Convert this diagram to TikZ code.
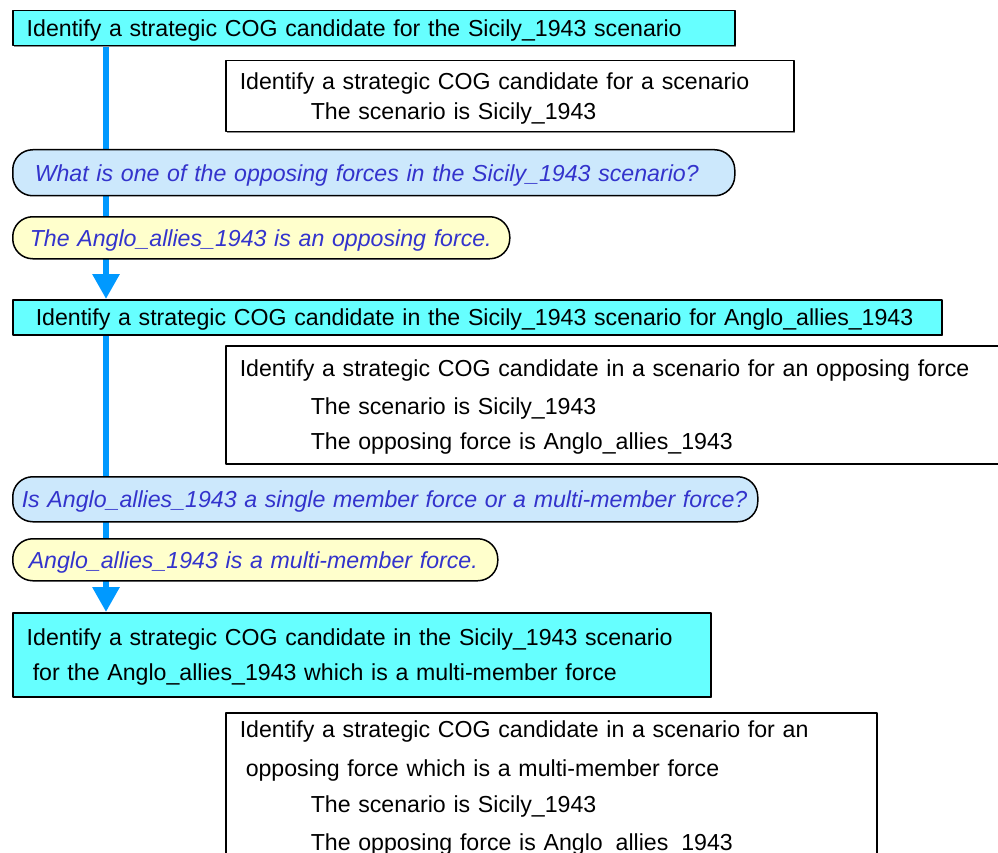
\documentclass[tikz,border=0pt]{standalone}
\usepackage{fontspec}
\setmainfont{Liberation Sans}
\usetikzlibrary{arrows.meta,shadows,backgrounds}
\definecolor{goalcyan}{HTML}{66FFFF}
\definecolor{quesblue}{HTML}{CCE8FC}
\definecolor{answyellow}{HTML}{FFFFCC}
\definecolor{textblue}{HTML}{3333CC}
\definecolor{flowblue}{HTML}{0099FF}
\begin{document}
\begin{tikzpicture}[x=1pt, y=-1pt, line join=round,
	base/.style={anchor=north west, align=left, inner ysep=0pt, font=\fontsize{23.15}{28}\selectfont, execute at begin node={\rule{0pt}{22pt}}},
	goal/.style={base, draw=black, line width=1.5pt, fill=goalcyan, drop shadow={shadow xshift=1.5pt, shadow yshift=-1.5pt, fill=black!45, opacity=1}},
	reduct/.style={base, draw=black, line width=1.5pt, fill=white, drop shadow={shadow xshift=1.5pt, shadow yshift=-1.5pt, fill=black!45, opacity=1}},
	ques/.style={base, draw=black, line width=1.5pt, fill=quesblue, rounded corners=20pt, text=textblue, font=\fontsize{23.15}{28}\selectfont\itshape},
	answ/.style={ques, fill=answyellow},
	flow/.style={draw=flowblue, line width=6pt, -{Triangle[width=26pt,length=25pt]}}]
	\clip (0,0) rectangle (998,853);
	% first step
	\node[goal, minimum height=35pt, inner xsep=14pt, text width=694pt] (goal1) at (12,10) {Identify a strategic COG candidate for the Sicily\_1943 scenario};
	\node[reduct, minimum height=71pt, inner xsep=14pt, text width=540pt] (red1) at (225,60) {Identify a strategic COG candidate for a scenario\\[2pt]\hspace*{71pt}The scenario is Sicily\_1943};
	\node[ques, minimum height=46pt, inner xsep=22pt, text width=678pt] (q1) at (12,149) {What is one of the opposing forces in the Sicily\_1943 scenario?};
	\node[answ, minimum height=42pt, inner xsep=17pt, text width=463pt] (a1) at (12,216) {The Anglo\_allies\_1943 is an opposing force.};
	% second step
	\node[goal, minimum height=35pt, inner xsep=23pt, text width=883pt] (goal2) at (12,299) {Identify a strategic COG candidate in the Sicily\_1943 scenario for Anglo\_allies\_1943};
	\node[reduct, minimum height=118pt, inner xsep=14pt, text width=800pt] (red2) at (225,345) {Identify a strategic COG candidate in a scenario for an opposing force\\[10pt]\hspace*{71pt}The scenario is Sicily\_1943\\[7pt]\hspace*{71pt}The opposing force is Anglo\_allies\_1943};
	\node[ques, minimum height=45pt, inner xsep=9pt, text width=727pt] (q2) at (12,476) {Is Anglo\_allies\_1943 a single member force or a multi-member force?};
	\node[answ, minimum height=42pt, inner xsep=16pt, text width=453pt] (a2) at (12,538) {Anglo\_allies\_1943 is a multi-member force.};
	% third step
	\node[goal, minimum height=84pt, inner xsep=14pt, text width=670pt] (goal3) at (12,612) {Identify a strategic COG candidate in the Sicily\_1943 scenario\\[7pt]\hspace*{6pt}for the Anglo\_allies\_1943 which is a multi-member force};
	\node[reduct, minimum height=145pt, inner xsep=14pt, text width=623pt] (red3) at (225,712) {Identify a strategic COG candidate in a scenario for an\\[11pt]\hspace*{6pt}opposing force which is a multi-member force\\[8pt]\hspace*{71pt}The scenario is Sicily\_1943\\[10pt]\hspace*{71pt}The opposing force is Anglo\_allies\_1943};
	% flow lines
	\coordinate (f1) at ([xshift=94pt]goal1.south west);
	\coordinate (f2) at ([xshift=94pt]goal2.south west);
	\begin{scope}[on background layer]
		\fill[white] (0,0) rectangle (998,853);
		\draw[flow] (f1) -- (f1 |- goal2.north);
		\draw[flow] (f2) -- (f2 |- goal3.north);
	\end{scope}
\end{tikzpicture}
\end{document}
